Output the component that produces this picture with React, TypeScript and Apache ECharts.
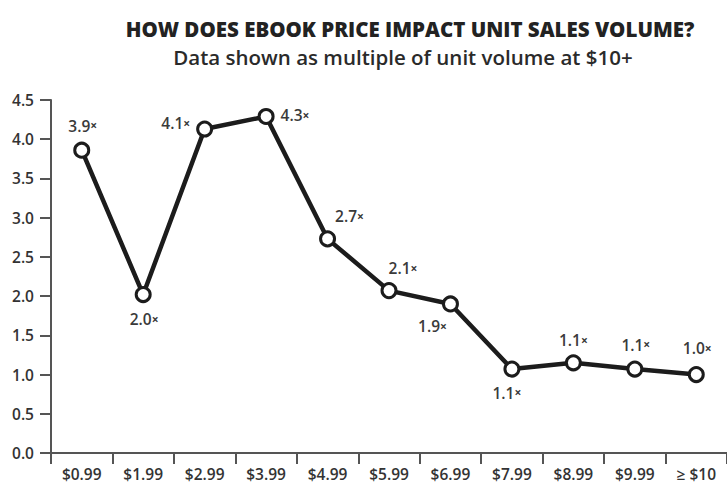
import React, { useEffect, useRef } from "react";
import * as echarts from "echarts";

const categories = ["$0.99", "$1.99", "$2.99", "$3.99", "$4.99", "$5.99", "$6.99", "$7.99", "$8.99", "$9.99", "≥ $10"];
const values = [3.86, 2.02, 4.13, 4.29, 2.73, 2.07, 1.9, 1.07, 1.15, 1.07, 1.0];
const labelTexts = ["3.9", "2.0", "4.1", "4.3", "2.7", "2.1", "1.9", "1.1", "1.1", "1.1", "1.0"];
const labelPlacement: [string, number, number][] = [
  ["top", 1, -2],
  ["bottom", 1, 2],
  ["left", 0, -6],
  ["right", 0, -1],
  ["top", 22, 0],
  ["top", 14, 0],
  ["bottom", -18, 0],
  ["bottom", -5, 1],
  ["top", 0, 0],
  ["top", 1, -2],
  ["top", 1, -4],
];

const FONT = "'Open Sans', 'Noto Sans', sans-serif";

export default function App() {
  const ref = useRef<HTMLDivElement>(null);
  useEffect(() => {
    if (!ref.current) return;
    const chart = echarts.init(ref.current, undefined, { renderer: "svg" });
    chart.setOption({
      animation: false,
      backgroundColor: "#ffffff",
      title: [
        {
          text: "HOW DOES EBOOK PRICE IMPACT UNIT SALES VOLUME?",
          left: 405,
          textAlign: "center",
          top: 13,
          textStyle: { fontFamily: FONT, fontWeight: 800, fontSize: 20.5, color: "#222" },
        },
        {
          text: "Data shown as multiple of unit volume at $10+",
          left: 398,
          textAlign: "center",
          top: 41,
          textStyle: { fontFamily: FONT, fontWeight: 600, fontSize: 20.5, color: "#2a2a2a" },
        },
      ],
      grid: { left: 51, right: 0, top: 100, bottom: 32, containLabel: false },
      xAxis: {
        type: "category",
        data: categories,
        boundaryGap: true,
        axisLine: { show: true, lineStyle: { color: "#555", width: 2 } },
        axisTick: { show: true, length: 11, lineStyle: { color: "#555", width: 2 } },
        axisLabel: {
          fontFamily: FONT,
          fontWeight: 600,
          fontSize: 15.5,
          lineHeight: 16,
          color: "#333",
          margin: 13,
          interval: 0,
        },
      },
      yAxis: {
        type: "value",
        min: 0,
        max: 4.5,
        interval: 0.5,
        splitLine: { show: false },
        axisLine: { show: true, lineStyle: { color: "#555", width: 2 } },
        axisTick: { show: true, length: 11, lineStyle: { color: "#555", width: 2 } },
        axisLabel: {
          fontFamily: FONT,
          fontWeight: 600,
          fontSize: 15.5,
          color: "#333",
          margin: 17,
          formatter: (v: number) => v.toFixed(1),
        },
      },
      series: [
        {
          type: "line",
          data: values.map((v, i) => ({
            value: v,
            label: {
              position: labelPlacement[i][0],
              offset: [labelPlacement[i][1], labelPlacement[i][2]],
              formatter: () => labelTexts[i] + "{x|×}",
            },
          })),
          lineStyle: { color: "#1c1c1c", width: 4.5 },
          symbol: "circle",
          symbolSize: 14,
          itemStyle: { color: "#ffffff", borderColor: "#1c1c1c", borderWidth: 3 },
          label: {
            show: true,
            distance: 6,
            fontFamily: FONT,
            fontWeight: 600,
            fontSize: 15.5,
            color: "#3a3a3a",
            rich: { x: { fontFamily: FONT, fontSize: 12, fontWeight: 700, color: "#3a3a3a" } },
          },
        },
      ],
    });
    return () => chart.dispose();
  }, []);
  return (
    <div
      ref={ref}
      style={{ position: "fixed", left: 0, top: 0, width: 727, height: 485 }}
    />
  );
}
